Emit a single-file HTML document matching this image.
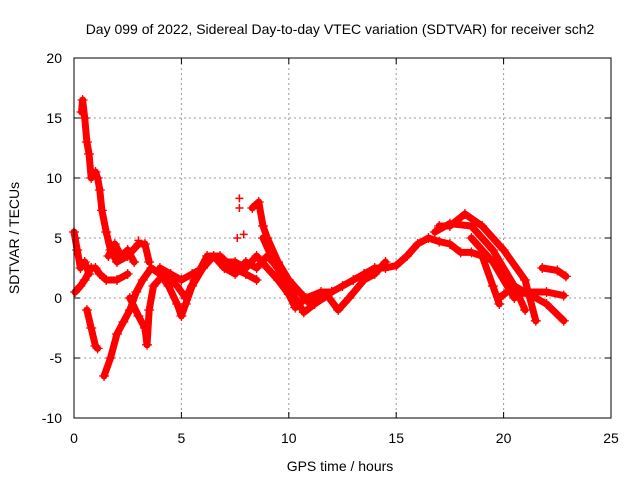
<!DOCTYPE html>
<html><head><meta charset="utf-8"><style>
body{margin:0;background:#fff}
svg{display:block;font-family:"Liberation Sans",sans-serif}
</style></head><body>
<svg id="c" width="640" height="480">
<text x="340" y="34" font-size="14" text-anchor="middle">Day 099 of 2022, Sidereal Day-to-day VTEC variation (SDTVAR) for receiver sch2</text>
<text x="340" y="471" font-size="14" text-anchor="middle">GPS time / hours</text>
<text transform="translate(19,238) rotate(-90)" font-size="14" text-anchor="middle">SDTVAR / TECUs</text>
<g id="grid"></g><g id="marks"></g>
<rect x="74" y="58" width="537" height="360" fill="none" stroke="#000"/>
</svg>
<script>
const xTicks=[0,5,10,15,20,25];
const yTicks=[-10,-5,0,5,10,15,20];
const trackA=[[0.35,15.5],[0.4,16.5],[0.5,15],[0.6,13],[0.7,12],[0.8,10],[1.0,10.5],[1.1,10],[1.2,9],[1.3,7.3],[1.5,5.5],[1.7,4],[2.0,3],[2.5,3.5],[3.0,4.5],[3.3,4.5],[3.5,3]];
const trackB=[[0.05,0.5],[0.3,1],[0.5,1.5],[0.8,2.5],[1.0,2.5],[1.2,2],[1.5,1.5],[2.0,1.5],[2.5,2]];
const trackB2=[[0.0,5.5],[0.15,4],[0.3,2.5],[0.5,3],[0.7,2]];
const trackC=[[0.6,-1],[0.8,-2.5],[1.0,-4],[1.1,-4.2]];
const trackD=[[1.4,-6.5],[1.7,-5],[2.0,-3],[2.3,-2],[2.6,-1],[2.9,0.5],[3.2,1.5],[3.6,2.5],[4.0,2],[4.4,1],[4.8,-0.5],[5.0,-1.5],[5.2,-0.5],[5.5,1],[6.0,2.5],[6.5,3.5],[7.0,3],[7.5,3],[8.0,2.5],[8.5,3.5],[9.0,2.5],[9.5,1.5],[10.0,0.3],[10.3,-0.8],[10.8,0],[11.5,0.5],[12.0,0.5],[12.5,1],[13.0,1.5],[13.5,2],[14.0,2.5],[14.5,2.5],[15.0,2.7],[15.5,3.5],[16.0,4.5],[16.5,5],[17.0,4.7],[17.5,4.5],[18.0,3.8],[18.5,3.8],[19.0,3.5],[19.5,1],[19.8,-0.5]];
const trackE=[[2.6,0],[3.0,-1.5],[3.3,-2.5],[3.4,-3.9],[3.5,-1],[3.7,1],[4.2,2],[4.8,1],[5.2,0],[5.6,1.5],[6.2,3.5],[6.8,3.5],[7.4,2.5],[8.0,2],[8.5,1.5]];
const trackF=[[8.3,7.5],[8.6,8],[8.8,6],[9.0,5],[9.5,3],[10.0,1.5],[10.5,0.5],[11.0,-0.5],[11.5,0],[12.0,0.5]];
const trackG=[[8.8,5],[9.3,3],[9.8,1.5],[10.3,0],[10.7,-1.2],[11.2,-0.5],[11.8,0.2],[12.3,-1],[12.8,0],[13.5,1.5],[14.0,2],[14.5,3]];
const trackH=[[17.0,6],[17.5,6],[18.2,7],[19.0,6],[20.0,4],[21.0,1.5],[21.5,-1.9]];
const trackI=[[16.8,5.5],[17.5,6.2],[18.5,6],[19.5,4],[20.5,1],[21.0,-1]];
const trackJ=[[18.5,5],[19.5,3],[20.5,0],[21.0,0.5],[22.0,0.5],[22.8,0.2]];
const trackK=[[19.8,0],[20.5,1],[21.0,0.5],[22.0,-0.5],[22.8,-1.9]];
const trackL=[[21.8,2.5],[22.5,2.3],[22.9,1.8]];
const trackM=[[1.6,3.5],[1.9,4.5],[2.2,3.5],[2.5,4],[2.8,3]];
const trackN=[[4.0,2.5],[4.5,2],[5.0,1.5],[5.5,2],[6.0,2.5]];
const trackO=[[6.5,3.5],[7.0,2.5],[7.5,2],[8.0,3],[8.5,2.5],[9.0,3.5],[9.5,2.5]];
const isolated=[[7.7,8.3],[7.7,7.5],[7.6,5],[7.9,5.3],[3.0,4.8]];
const tracks=[trackA,trackB,trackB2,trackC,trackD,trackE,trackF,trackG,trackH,trackI,trackJ,trackK,trackL,trackM,trackN,trackO];
const NS='http://www.w3.org/2000/svg';
const X=v=>74+v*537/25, Y=v=>298-v*12;
const g=document.getElementById('grid'), m=document.getElementById('marks'), svg=document.getElementById('c');
function el(t,a,p){const e=document.createElementNS(NS,t);for(const k in a)e.setAttribute(k,a[k]);p.appendChild(e);return e;}
xTicks.forEach(t=>{
 if(t>0&&t<25){const l=el('line',{x1:X(t),x2:X(t),y1:58,y2:418,stroke:'#999','stroke-dasharray':'2,3'},g);
 
 }
 el('line',{x1:X(t),x2:X(t),y1:418,y2:412,stroke:'#000'},g);
 el('line',{x1:X(t),x2:X(t),y1:58,y2:64,stroke:'#000'},g);
 const tx=el('text',{x:X(t),y:443,'font-size':14,'text-anchor':'middle'},svg);tx.textContent=t;
 
 
});
yTicks.forEach(t=>{
 if(t>-10&&t<20){const l=el('line',{x1:74,x2:611,y1:Y(t),y2:Y(t),stroke:'#999','stroke-dasharray':'2,3'},g);
 
 }
 el('line',{x1:74,x2:80,y1:Y(t),y2:Y(t),stroke:'#000'},g);
 el('line',{x1:605,x2:611,y1:Y(t),y2:Y(t),stroke:'#000'},g);
 const tx=el('text',{x:62,y:Y(t)+5,'font-size':14,'text-anchor':'end'},svg);tx.textContent=t;
 
 
});
tracks.forEach(tr=>{
 const p=el('polyline',{points:tr.map(d=>X(d[0])+','+Y(d[1])).join(' '),fill:'none',stroke:'#f00','stroke-width':7,'stroke-linejoin':'round','stroke-linecap':'round'},m);
 
 
 tr.forEach(d=>{const c=el('path',{d:`M${X(d[0])-5},${Y(d[1])}h10M${X(d[0])},${Y(d[1])-5}v10`,stroke:'#f00','stroke-width':1.3},m);
 
 });
});
isolated.forEach(d=>{const c=el('path',{d:`M${X(d[0])-4},${Y(d[1])}h8M${X(d[0])},${Y(d[1])-4}v8`,stroke:'#f00','stroke-width':1.5},m);
 
 });
</script>
</body></html>
